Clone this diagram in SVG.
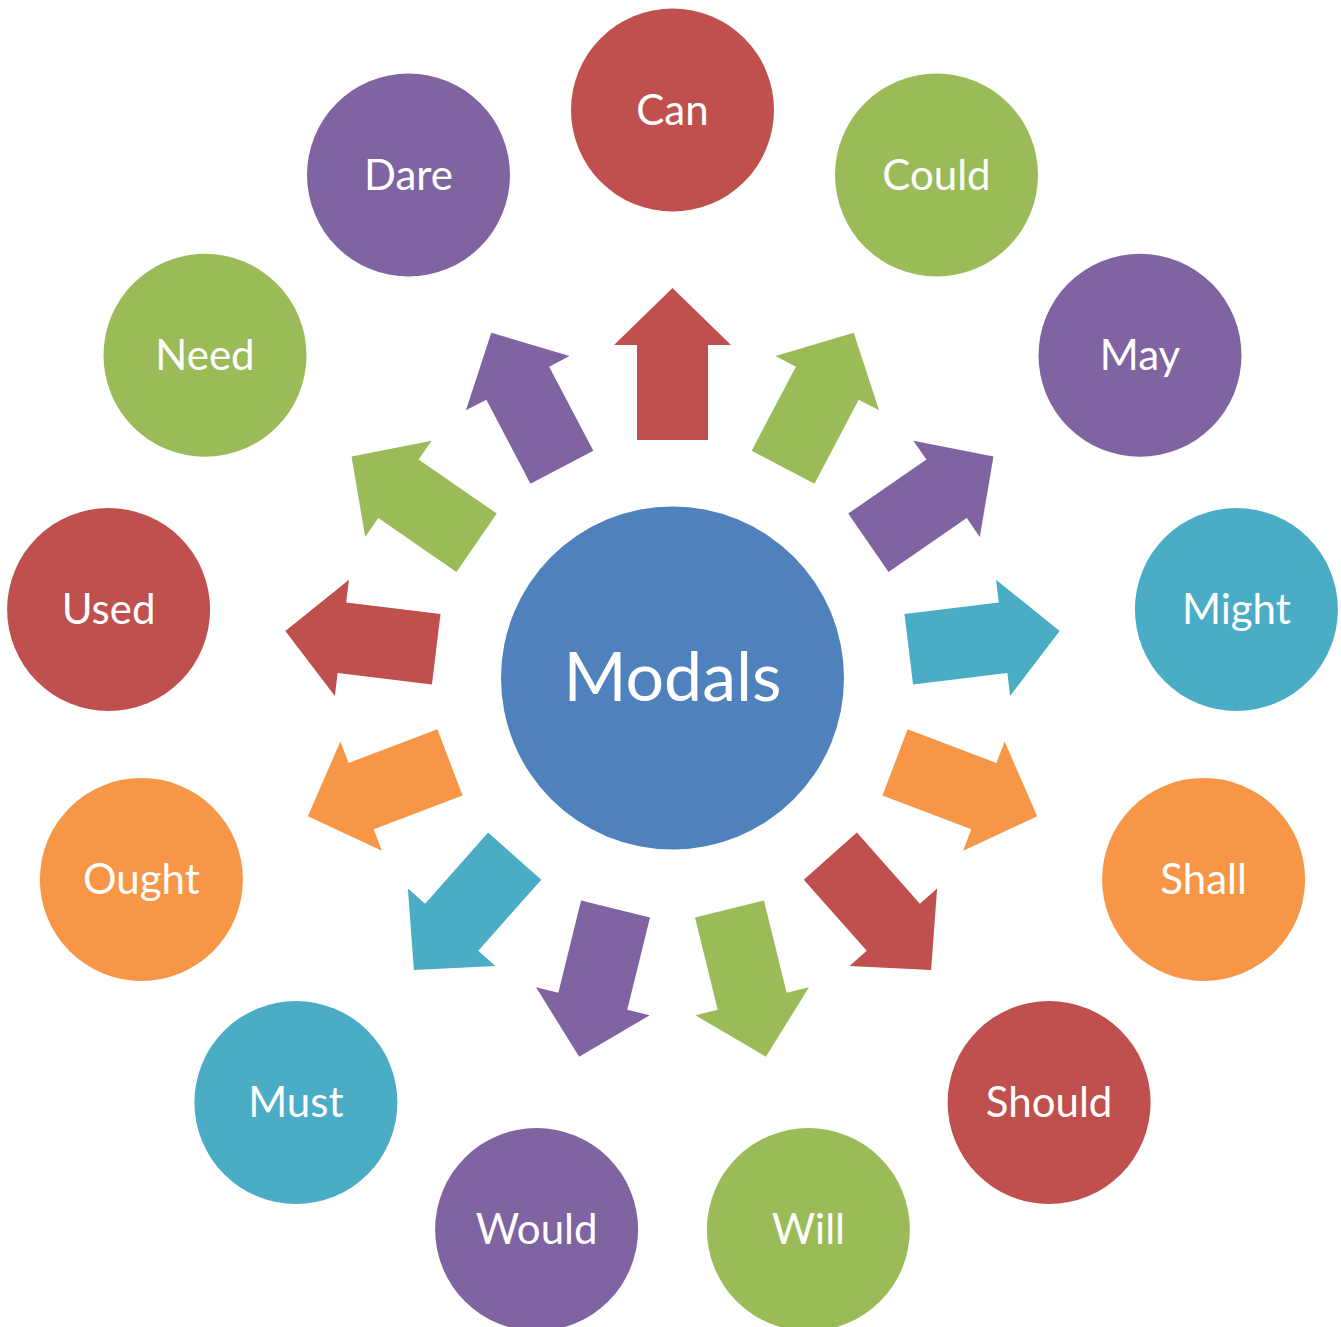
<svg xmlns="http://www.w3.org/2000/svg" xmlns:xlink="http://www.w3.org/1999/xlink" width="1341" height="1327" viewBox="0 0 1341 1327">
<style>
.lbl{font-family:Lato,"Open Sans","Liberation Sans",sans-serif;font-size:42px;fill:#fff;text-anchor:middle}
.ctr{font-family:Lato,"Open Sans","Liberation Sans",sans-serif;font-size:68px;fill:#fff;text-anchor:middle}
.red{fill:#C0504D}.grn{fill:#9BBB59}.pur{fill:#8064A2}.tea{fill:#4BACC6}.org{fill:#F79646}.blu{fill:#4F81BD}
</style>
<defs>
<path id="arr" d="M672.5,288 L731,345 L708,345 L708,440 L637,440 L637,345 L614,345 Z"/>
</defs>
<rect width="1341" height="1327" fill="#fff"/>
<g id="connectors">
<use xlink:href="#arr" href="#arr" class="red" transform="rotate(0 672.5 678)"/>
<use xlink:href="#arr" href="#arr" class="grn" transform="rotate(27.6923 672.5 678)"/>
<use xlink:href="#arr" href="#arr" class="pur" transform="rotate(55.3846 672.5 678)"/>
<use xlink:href="#arr" href="#arr" class="tea" transform="rotate(83.0769 672.5 678)"/>
<use xlink:href="#arr" href="#arr" class="org" transform="rotate(110.7692 672.5 678)"/>
<use xlink:href="#arr" href="#arr" class="red" transform="rotate(138.4615 672.5 678)"/>
<use xlink:href="#arr" href="#arr" class="grn" transform="rotate(166.1538 672.5 678)"/>
<use xlink:href="#arr" href="#arr" class="pur" transform="rotate(193.8462 672.5 678)"/>
<use xlink:href="#arr" href="#arr" class="tea" transform="rotate(221.5385 672.5 678)"/>
<use xlink:href="#arr" href="#arr" class="org" transform="rotate(249.2308 672.5 678)"/>
<use xlink:href="#arr" href="#arr" class="red" transform="rotate(276.9231 672.5 678)"/>
<use xlink:href="#arr" href="#arr" class="grn" transform="rotate(304.6154 672.5 678)"/>
<use xlink:href="#arr" href="#arr" class="pur" transform="rotate(332.3077 672.5 678)"/>
</g>
<g id="modals"><circle class="blu" cx="672.5" cy="678" r="171.5"/><text class="ctr" x="672.5" y="701">Modals</text></g>
<g id="can"><circle class="red" cx="672.5" cy="110" r="101.5"/><text class="lbl" x="672.5" y="125">Can</text></g>
<g id="could"><circle class="grn" cx="936.5" cy="175" r="101.5"/><text class="lbl" x="936.5" y="190">Could</text></g>
<g id="may"><circle class="pur" cx="1140" cy="355.3" r="101.5"/><text class="lbl" x="1140" y="370">May</text></g>
<g id="might"><circle class="tea" cx="1236.4" cy="609.5" r="101.5"/><text class="lbl" x="1236.4" y="624">Might</text></g>
<g id="shall"><circle class="org" cx="1203.6" cy="879.4" r="101.5"/><text class="lbl" x="1203.6" y="894">Shall</text></g>
<g id="should"><circle class="red" cx="1049.1" cy="1102.5" r="101.5"/><text class="lbl" x="1049.1" y="1117">Should</text></g>
<g id="will"><circle class="grn" cx="808.4" cy="1229.5" r="101.5"/><text class="lbl" x="808.4" y="1244">Will</text></g>
<g id="would"><circle class="pur" cx="536.6" cy="1229.5" r="101.5"/><text class="lbl" x="536.6" y="1244">Would</text></g>
<g id="must"><circle class="tea" cx="295.9" cy="1102.5" r="101.5"/><text class="lbl" x="295.9" y="1117">Must</text></g>
<g id="ought"><circle class="org" cx="141.4" cy="879.4" r="101.5"/><text class="lbl" x="141.4" y="894">Ought</text></g>
<g id="used"><circle class="red" cx="108.6" cy="609.5" r="101.5"/><text class="lbl" x="108.6" y="624">Used</text></g>
<g id="need"><circle class="grn" cx="205" cy="355.3" r="101.5"/><text class="lbl" x="205" y="370">Need</text></g>
<g id="dare"><circle class="pur" cx="408.5" cy="175" r="101.5"/><text class="lbl" x="408.5" y="190">Dare</text></g>
</svg>
